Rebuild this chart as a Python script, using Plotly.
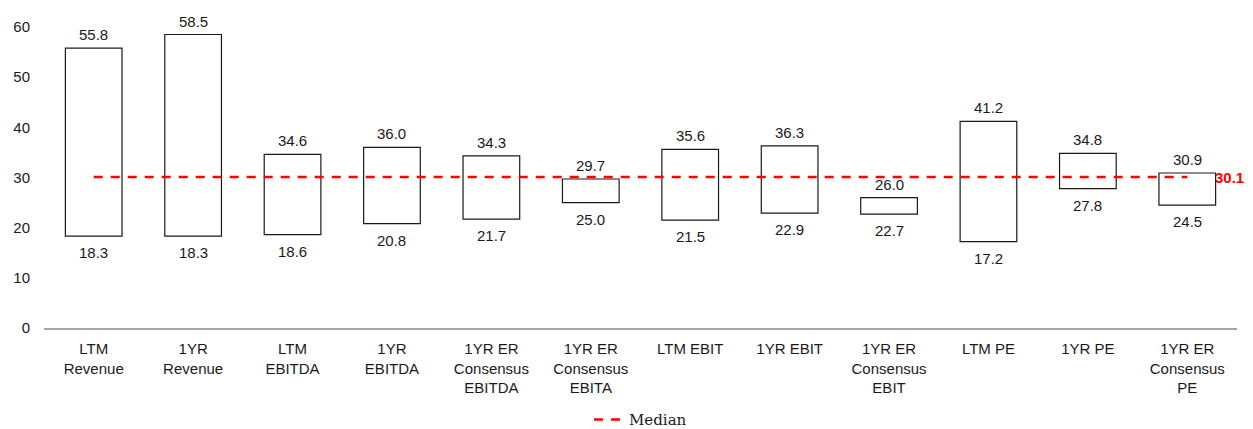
import plotly.graph_objects as go

categories = [
    "LTM<br>Revenue", "1YR<br>Revenue", "LTM<br>EBITDA", "1YR<br>EBITDA",
    "1YR ER<br>Consensus<br>EBITDA", "1YR ER<br>Consensus<br>EBITA", "LTM EBIT",
    "1YR EBIT", "1YR ER<br>Consensus<br>EBIT", "LTM PE", "1YR PE",
    "1YR ER<br>Consensus<br>PE",
]
low_values = [18.3, 18.3, 18.6, 20.8, 21.7, 25.0, 21.5, 22.9, 22.7, 17.2, 27.8, 24.5]
high_values = [55.8, 58.5, 34.6, 36.0, 34.3, 29.7, 35.6, 36.3, 26.0, 41.2, 34.8, 30.9]
median_value = 30.1

font_main = "Liberation Sans, Arial, sans-serif"
text_color = "#1a1a1a"
fsize = 15
x_idx = list(range(len(categories)))

fig = go.Figure()

# floating range bars
fig.add_trace(go.Bar(
    x=x_idx,
    y=[h - l for h, l in zip(high_values, low_values)],
    base=low_values,
    width=0.57,
    marker=dict(color="white", line=dict(color=text_color, width=1.2)),
    showlegend=False,
    hoverinfo="skip",
))

# median line
fig.add_trace(go.Scatter(
    x=x_idx, y=[median_value] * len(categories), mode="lines",
    line=dict(color="#ff0000", width=2.5, dash="9px,8px"),
    name="Median", hoverinfo="skip",
))

# value labels above and below each bar
for i, (lo, hi) in enumerate(zip(low_values, high_values)):
    fig.add_annotation(
        x=i, y=hi, text=f"{hi:.1f}", showarrow=False,
        yanchor="bottom", yshift=3,
        font=dict(family=font_main, size=fsize, color=text_color),
    )
    fig.add_annotation(
        x=i, y=lo, text=f"{lo:.1f}", showarrow=False,
        yanchor="top", yshift=-6,
        font=dict(family=font_main, size=fsize, color=text_color),
    )

fig.add_annotation(
    x=x_idx[-1], y=median_value, xref="x", yref="y",
    text=f"<b>{median_value:.1f}</b>", showarrow=False,
    xanchor="left", xshift=26,
    font=dict(family=font_main, size=fsize, color="#ff0000"),
)

fig.update_layout(
    width=1253, height=429,
    margin=dict(l=44, r=16, t=27, b=101, autoexpand=False),
    paper_bgcolor="white", plot_bgcolor="white",
    font=dict(family=font_main, size=fsize, color=text_color),
    legend=dict(
        orientation="h", x=0.5, xanchor="center", y=-0.305, yanchor="middle",
        font=dict(family="DejaVu Serif, serif", size=fsize, color=text_color),
        bgcolor="rgba(0,0,0,0)",
    ),
    xaxis=dict(
        tickmode="array", tickvals=x_idx, ticktext=categories,
        range=[-0.5, len(categories) - 0.5],
        showgrid=False, showline=True, linecolor="#a6a6a6", linewidth=2,
        ticks="", tickfont=dict(family=font_main, size=fsize, color=text_color),
        zeroline=False, automargin=False, ticklabelstandoff=6,
    ),
    yaxis=dict(
        range=[0, 60], tickvals=[0, 10, 20, 30, 40, 50, 60],
        showgrid=False, showline=False, zeroline=False, ticks="",
        tickfont=dict(family=font_main, size=fsize, color=text_color),
        ticklabelstandoff=13, automargin=False,
    ),
)

fig.write_html("out.html")
